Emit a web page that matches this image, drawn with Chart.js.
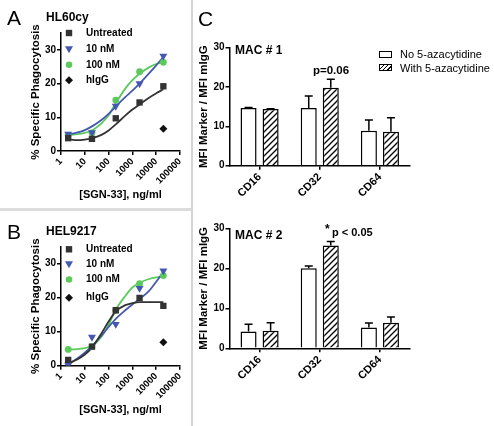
<!DOCTYPE html>
<html>
<head>
<meta charset="utf-8">
<script src="https://cdn.jsdelivr.net/npm/chart.js@4.4.1/dist/chart.umd.min.js"></script>
<style>
body { margin: 0; background: #fff; }
#fig { position: relative; width: 494px; height: 426px; overflow: hidden; font-family: 'Liberation Sans', Arial, sans-serif; color: #000; }
#fig canvas { position: absolute; left: 0; top: 0; }
.t { position: absolute; line-height: 1; white-space: nowrap; }
.b { font-weight: bold; }
.letter { font-size: 21px; }
.ttl { font-size: 12px; font-weight: bold; }
.sep-v { position: absolute; left: 191px; top: 0; width: 2px; height: 426px; background: #d4d4d4; }
.sep-h { position: absolute; left: 0; top: 208px; width: 191px; height: 3px; background: #dcdcdc; }
.box { position: absolute; width: 13px; height: 7px; box-sizing: border-box; border: 1.5px solid #000; background: #fff; }
.box.hatch { background: repeating-linear-gradient(-45deg, #fff 0 2px, #000 2px 3px); }
</style>
</head>
<body>
<div id="fig">
  <div class="sep-v"></div>
  <div class="sep-h"></div>
  <canvas id="cA" width="494" height="426"></canvas>
  <canvas id="cB" width="494" height="426"></canvas>
  <canvas id="cC1" width="494" height="426"></canvas>
  <canvas id="cC2" width="494" height="426"></canvas>

  <div class="t letter" style="left:7px;top:7px">A</div>
  <div class="t letter" style="left:7px;top:221px">B</div>
  <div class="t letter" style="left:198px;top:8px">C</div>
  <div class="t ttl" style="left:46px;top:10.5px">HL60cy</div>
  <div class="t ttl" style="left:46px;top:225px">HEL9217</div>
  <div class="t ttl" style="left:235px;top:44px">MAC # 1</div>
  <div class="t ttl" style="left:235px;top:229px">MAC # 2</div>
  <div class="t b" style="left:331px;top:64.5px;font-size:11.5px;transform:translateX(-50%)">p=0.06</div>
  <div class="t b" style="left:325px;top:223px;font-size:12px">*</div>
  <div class="t b" style="left:332px;top:227px;font-size:11px">p &lt; 0.05</div>

  <div class="box" style="left:379px;top:50.5px"></div>
  <div class="t" style="left:400px;top:49px;font-size:11px">No 5-azacytidine</div>
  <div class="box hatch" style="left:379px;top:64px"></div>
  <div class="t" style="left:400px;top:63px;font-size:11px">With 5-azacytidine</div>
</div>
<script>
const doses = [2, 20, 200, 2000, 20000];
const higgDose = [20000];
const doseTicks = [1, 10, 100, 1000, 10000, 100000];
const doseTickLabels = ['1', '10', '100', '1000', '10000', '100000'];
const pctTicks = [0, 10, 20, 30];

const hl60Untreated = [3.8, 3.6, 9.7, 14.4, 19.2];
const hl6010nM = [5.0, 5.5, 13.3, 20.0, 28.2];
const hl60100nM = [4.7, 5.4, 15.1, 23.5, 26.3];
const hl60HIgG = [6.6];

const helUntreated = [1.7, 5.6, 16.3, 19.9, 17.6];
const hel10nM = [0.2, 8.4, 12.2, 22.8, 27.9];
const hel100nM = [4.8, 5.6, 16.3, 24.1, 26.5];
const helHIgG = [6.9];

// fitted curves
const fitDoses = [2, 5, 10, 20, 50, 100, 200, 500, 1000, 2000, 5000, 10000, 20000];
const hl60UntreatedFit = [3.5, 3.2, 3.4, 3.8, 4.8, 6.1, 7.9, 10.5, 12.3, 13.8, 15.8, 17.1, 18.3];
const hl6010nMFit = [4.9, 5.5, 6.2, 7.3, 9.2, 11.0, 13.2, 16.0, 17.9, 20.0, 23.0, 25.4, 27.9];
const hl60100nMFit = [4.7, 5.0, 5.4, 6.1, 8.2, 10.6, 14.2, 18.5, 21.0, 22.9, 24.8, 25.8, 26.4];
const helUntreatedFit = [0.7, 1.9, 3.3, 5.3, 9.5, 13.0, 16.0, 17.8, 18.4, 18.7, 18.7, 18.7, 18.7];
const hel10nMFit = [0.3, 2.2, 3.8, 5.8, 8.8, 11.4, 13.8, 16.3, 18.0, 19.6, 22.0, 24.7, 27.6];
const hel100nMFit = [4.8, 4.9, 5.2, 5.8, 8.5, 12.0, 16.5, 20.5, 23.0, 24.4, 25.5, 26.0, 26.3];

// panel C bars
const markers = ['CD16', 'CD32', 'CD64'];
const mfiTicks = [0, 10, 20, 30];
const mac1No = [14.7, 14.7, 8.9];
const mac1NoErr = [14.8, 17.7, 11.6];
const mac1With = [14.4, 19.8, 8.6];
const mac1WithErr = [14.5, 22.0, 12.2];
const mac2No = [4.2, 20.0, 5.2];
const mac2NoErr = [6.0, 20.6, 6.3];
const mac2With = [4.4, 25.7, 6.4];
const mac2WithErr = [6.4, 26.7, 7.8];

const BLACK = '#333333', BLUE = '#4558b0', GREEN = '#5cc95c';
const FONT = "'Liberation Sans', Arial, sans-serif";
Chart.defaults.font.family = FONT;
Chart.defaults.color = '#000';

const xy = (xs, ys) => xs.map((x, i) => ({ x, y: ys[i] }));

function drawMarker(ctx, style, x, y, color) {
    ctx.fillStyle = color;
    ctx.beginPath();
    if (style === 'rect') ctx.rect(x - 3.2, y - 3.2, 6.4, 6.4);
    else if (style === 'tri') { ctx.moveTo(x - 4, y - 3); ctx.lineTo(x + 4, y - 3); ctx.lineTo(x, y + 4); ctx.closePath(); }
    else if (style === 'circle') ctx.arc(x, y, 3.3, 0, Math.PI * 2);
    else { ctx.moveTo(x, y - 4); ctx.lineTo(x + 4, y); ctx.lineTo(x, y + 4); ctx.lineTo(x - 4, y); ctx.closePath(); }
    ctx.fill();
}

const markerLegend = {
    id: 'markerLegend',
    afterDraw(chart, args, o) {
        if (!o.rows) return;
        const ctx = chart.ctx;
        ctx.save();
        chart.data.datasets.slice(0, 4).forEach((ds, i) => {
            const y = o.rows[i];
            drawMarker(ctx, ds.mk, o.x, y, ds.backgroundColor);
            ctx.fillStyle = '#000';
            ctx.font = 'bold 10px ' + FONT;
            ctx.textBaseline = 'middle';
            ctx.fillText(ds.label, o.textX, y);
        });
        ctx.restore();
    }
};

const errorBars = {
    id: 'errorBars',
    afterDatasetsDraw(chart) {
        const ctx = chart.ctx, y = chart.scales.y;
        ctx.save();
        ctx.strokeStyle = '#000';
        ctx.lineWidth = 1.5;
        chart.data.datasets.forEach((ds, i) => {
            if (!ds.errHigh) return;
            chart.getDatasetMeta(i).data.forEach((bar, j) => {
                const top = y.getPixelForValue(ds.errHigh[j]);
                ctx.beginPath();
                ctx.moveTo(bar.x, bar.y);
                ctx.lineTo(bar.x, top);
                ctx.moveTo(bar.x - 4, top);
                ctx.lineTo(bar.x + 4, top);
                ctx.stroke();
            });
        });
        ctx.restore();
    }
};

function axisLook(extra) {
    return Object.assign({
        grid: { display: true, drawOnChartArea: false, drawTicks: true, tickLength: 4, color: '#000', lineWidth: 1.5 },
        border: { display: true, color: '#000', width: 1.5 }
    }, extra);
}

function doseChart(id, untreated, nm10, nm100, higg, fits, pad, xHeight, xTitlePad, rows) {
    const pts = (label, vals, color, style, mk, r, rot) => ({
        label, mk, data: xy(doses, vals), showLine: false, backgroundColor: color, borderColor: color,
        pointStyle: style, pointRadius: r, pointRotation: rot || 0, pointBorderWidth: 0
    });
    const fit = (vals, color) => ({
        data: xy(fitDoses, vals), borderColor: color, borderWidth: 1.8, pointRadius: 0,
        tension: 0.4, cubicInterpolationMode: 'monotone', fill: false
    });
    new Chart(document.getElementById(id), {
        type: 'line',
        data: {
            datasets: [
                pts('Untreated', untreated, BLACK, 'rect', 'rect', 4.5),
                pts('10 nM', nm10, BLUE, 'triangle', 'tri', 4.6, 180),
                pts('100 nM', nm100, GREEN, 'circle', 'circle', 3.4),
                { label: 'hIgG', mk: 'diamond', data: xy(higgDose, higg), showLine: false, backgroundColor: '#111',
                  borderColor: '#111', pointStyle: 'rectRot', pointRadius: 4, pointBorderWidth: 0 },
                fit(fits[0], BLACK), fit(fits[1], BLUE), fit(fits[2], GREEN)
            ]
        },
        options: {
            responsive: false, animation: false, devicePixelRatio: 1,
            layout: { padding: pad },
            plugins: { legend: { display: false }, tooltip: { enabled: false },
                markerLegend: { x: 69, textX: 86, rows } },
            scales: {
                x: axisLook({
                    type: 'logarithmic', min: 1, max: 100000,
                    afterBuildTicks: s => { s.ticks = doseTicks.map(v => ({ value: v })); },
                    afterFit: s => { s.height = xHeight; },
                    ticks: { autoSkip: false, minRotation: 45, maxRotation: 45, padding: 1,
                        font: { size: 9.5, weight: 'bold' },
                        callback: v => doseTickLabels[doseTicks.indexOf(v)] },
                    title: { display: true, text: '[SGN-33], ng/ml', font: { size: 11, weight: 'bold' },
                        padding: { top: 0, bottom: xTitlePad } }
                }),
                y: axisLook({
                    min: 0, max: 35,
                    afterBuildTicks: s => { s.ticks = pctTicks.map(v => ({ value: v })); },
                    afterFit: s => { s.width = 61; },
                    ticks: { padding: 1, font: { size: 10, weight: 'bold' } },
                    title: { display: true, text: '% Specific Phagocytosis', font: { size: 11.5, weight: 'bold' },
                        padding: { top: 28.6, bottom: 0 } }
                })
            }
        },
        plugins: [markerLegend]
    });
}

function hatch() {
    const c = document.createElement('canvas');
    c.width = 6; c.height = 6;
    const g = c.getContext('2d');
    g.fillStyle = '#fff'; g.fillRect(0, 0, 6, 6);
    g.strokeStyle = '#000'; g.lineWidth = 1.3;
    g.beginPath();
    g.moveTo(0, 6); g.lineTo(6, 0);
    g.moveTo(-1, 1); g.lineTo(1, -1);
    g.moveTo(5, 7); g.lineTo(7, 5);
    g.stroke();
    return g.createPattern(c, 'repeat');
}

function macChart(id, noVals, noErr, withVals, withErr, pad, xHeight) {
    new Chart(document.getElementById(id), {
        type: 'bar',
        data: {
            labels: markers,
            datasets: [
                { label: 'No 5-azacytidine', data: noVals, errHigh: noErr, backgroundColor: '#fff', borderColor: '#000', borderWidth: 1.5 },
                { label: 'With 5-azacytidine', data: withVals, errHigh: withErr, backgroundColor: hatch(), borderColor: '#000', borderWidth: 1.5 }
            ]
        },
        options: {
            responsive: false, animation: false, devicePixelRatio: 1,
            layout: { padding: pad },
            categoryPercentage: 0.733, barPercentage: 0.727,
            plugins: { legend: { display: false }, tooltip: { enabled: false } },
            scales: {
                x: axisLook({
                    grid: { display: true, offset: false, drawOnChartArea: false, drawTicks: true, tickLength: 4, color: '#000', lineWidth: 1.5 },
                    afterFit: s => { s.height = xHeight; },
                    ticks: { autoSkip: false, minRotation: 45, maxRotation: 45, padding: 1, font: { size: 11, weight: 'bold' } }
                }),
                y: axisLook({
                    min: 0, max: 30,
                    afterBuildTicks: s => { s.ticks = mfiTicks.map(v => ({ value: v })); },
                    afterFit: s => { s.width = 37.5; },
                    ticks: { padding: 1, font: { size: 10, weight: 'bold' } },
                    title: { display: true, text: 'MFI Marker / MFI mIgG', font: { size: 11.5, weight: 'bold' },
                        padding: { top: 5, bottom: 0 } }
                })
            }
        },
        plugins: [errorBars]
    });
}

doseChart('cA', hl60Untreated, hl6010nM, hl60100nM, hl60HIgG,
    [hl60UntreatedFit, hl6010nMFit, hl60100nMFit],
    { left: 0, top: 33, right: 314, bottom: 218 }, 57, 6.4, [33, 49.3, 64.8, 80.3]);
doseChart('cB', helUntreated, hel10nM, hel100nM, helHIgG,
    [helUntreatedFit, hel10nMFit, hel100nMFit],
    { left: 0, top: 246.7, right: 314, bottom: 0 }, 60.3, 9.4, [249.3, 264.3, 279.5, 297.7]);
macChart('cC1', mac1No, mac1NoErr, mac1With, mac1WithErr,
    { left: 192, top: 47.7, right: 84, bottom: 218 }, 42.3);
macChart('cC2', mac2No, mac2NoErr, mac2With, mac2WithErr,
    { left: 192, top: 228.3, right: 84, bottom: 0 }, 77.7);
</script>
</body>
</html>
